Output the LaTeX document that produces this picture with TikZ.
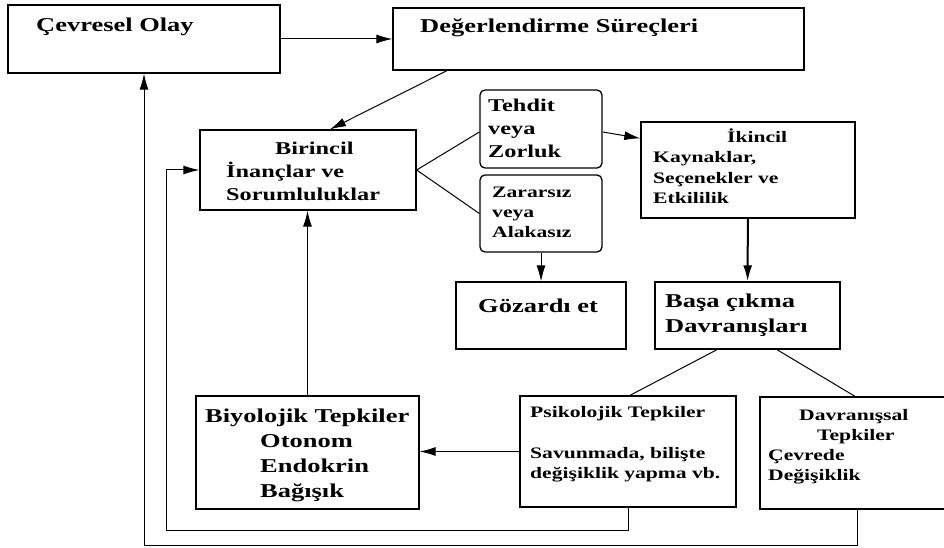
\documentclass[tikz,border=0pt]{standalone}
\usepackage{fontspec}
\setmainfont{Liberation Serif}[BoldFont={Liberation Serif Bold},FakeStretch=1.35,BoldFeatures={FakeStretch=1.35}]
\usetikzlibrary{arrows.meta}
\begin{document}
\begin{tikzpicture}[x=1pt,y=-1pt,
  box/.style={draw,line width=1.3pt,inner sep=0pt},
  rbox/.style={box,rounded corners=5pt},
  link/.style={line width=1pt},
  arr/.style={link,-{Latex[length=16pt,width=9pt]}},
  big/.style={font=\bfseries\fontsize{19.6}{25}\selectfont},
  mid/.style={font=\bfseries\fontsize{18}{23}\selectfont},
  small/.style={font=\bfseries\fontsize{16}{20}\selectfont},
  txt/.style={anchor=base west,inner sep=0pt,align=left}]
\useasboundingbox (0,0) rectangle (944,548);
\clip (0,0) rectangle (944,548);
\node[box,minimum width=272pt,minimum height=68pt] (olay) at (144,39) {};
\node[box,minimum width=411pt,minimum height=62pt] (deger) at (598.5,39) {};
\node[box,minimum width=216pt,minimum height=80pt] (birincil) at (308,170) {};
\node[rbox,minimum width=122pt,minimum height=78pt] (tehdit) at (541,129) {};
\node[rbox,minimum width=122pt,minimum height=77pt] (zararsiz) at (541,213.5) {};
\node[box,minimum width=214pt,minimum height=96pt] (ikincil) at (748,170) {};
\node[box,minimum width=170pt,minimum height=67pt] (gozardi) at (541,315.5) {};
\node[box,minimum width=185pt,minimum height=67pt] (basa) at (747.5,315.5) {};
\node[box,minimum width=223pt,minimum height=113pt] (biyo) at (307.5,452.5) {};
\node[box,minimum width=216pt,minimum height=111pt] (psiko) at (628,451.5) {};
\node[box,minimum width=200pt,minimum height=112pt] (davran) at (860,453) {};
\node[txt,big] (olay-t) at (36,32) {Çevresel Olay};
\node[txt,big] (deger-t) at (420,33) {Değerlendirme Süreçleri};
\node[txt,mid,text width=200pt] (birincil-t) at (226,155) {\hspace*{49pt}Birincil\\İnançlar ve\\Sorumluluklar};
\node[txt,mid,text width=110pt] (tehdit-t) at (488,112) {Tehdit\\veya\\Zorluk};
\node[txt,small,text width=110pt] (zararsiz-t) at (492,197) {Zararsız\\veya\\Alakasız};
\node[txt,small,text width=200pt] (ikincil-t) at (653,143) {\hspace*{74pt}İkincil\\Kaynaklar,\\Seçenekler ve\\Etkililik};
\node[txt,big] (gozardi-t) at (478,312) {Gözardı et};
\node[txt,big,text width=180pt] (basa-t) at (665,307) {Başa çıkma\\Davranışları};
\node[txt,big,text width=220pt] (biyo-t) at (205,422) {Biyolojik Tepkiler\\\hspace*{55pt}Otonom\\\hspace*{55pt}Endokrin\\\hspace*{55pt}Bağışık};
\node[txt,small,text width=210pt] (psiko-t) at (530,417) {Psikolojik Tepkiler\\[21pt]Savunmada, bilişte\\değişiklik yapma vb.};
\node[txt,small,text width=180pt] (davran-t) at (768,420) {\hspace*{31pt}Davranışsal\\\hspace*{49pt}Tepkiler\\Çevrede\\Değişiklik};
\coordinate (loopA) at (166,530);
\coordinate (loopB) at (144,545);
\draw[arr] (olay) -- (deger);
\draw[arr] ([xshift=-151.5pt]deger.south) -- ([xshift=22pt]birincil.north);
\draw[link] (birincil.east) -- ([yshift=-3pt]tehdit.west);
\draw[link] (birincil.east) -- (zararsiz.west);
\draw[arr] ([yshift=-3pt]tehdit.east) -- ([yshift=-17pt]ikincil.north west);
\draw[arr] (zararsiz) -- (gozardi);
\draw[arr,line width=2pt] (ikincil) -- (basa);
\draw[link] ([xshift=-30.5pt]basa.south) -- ([xshift=2pt]psiko.north);
\draw[link] ([xshift=29.5pt]basa.south) -- ([xshift=-5pt]davran.north);
\draw[arr] (psiko.west) -- (psiko.west -| biyo.east);
\draw[arr] (biyo.north) -- (biyo.north |- birincil.south);
\draw[arr] (psiko.south) |- (loopA) |- (birincil.west);
\draw[arr] ([xshift=-3pt]davran.south) |- (loopB) -- (olay.south);
\end{tikzpicture}
\end{document}
